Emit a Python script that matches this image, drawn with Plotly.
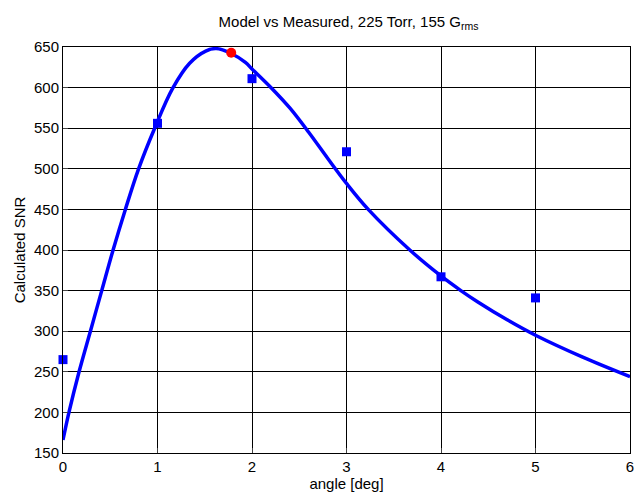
import plotly.graph_objects as go

# Model curve (angle in deg, SNR)
model_angle = [0, 0.063, 0.17, 0.29, 0.41, 0.53, 0.66, 0.80, 0.97, 1.16, 1.34, 1.51, 1.62,
               1.78, 1.93, 2.0, 2.21, 2.4, 2.6, 2.8, 3.0, 3.23, 3.67, 4.0, 4.21, 4.39,
               4.7, 5.0, 5.5, 6.0]
model_snr = [166, 200, 250, 300, 350, 400, 450, 500, 550, 599, 630, 645, 648,
             642, 631, 623, 599, 575, 545, 513, 482, 450, 400, 368, 350, 336,
             314, 295, 268, 244]

# Measured points
meas_angle = [0, 1, 2, 3, 4, 5]
meas_snr = [265, 556, 611, 521, 367, 341]

# Highlighted point
opt_angle = [1.78]
opt_snr = [643]

x_ticks = [0, 1, 2, 3, 4, 5, 6]
y_ticks = [150, 200, 250, 300, 350, 400, 450, 500, 550, 600, 650]

fig = go.Figure()
fig.add_trace(go.Scatter(x=model_angle, y=model_snr, mode="lines",
                         line=dict(color="#0000ff", width=3.5, shape="spline", smoothing=1.0),
                         showlegend=False))
fig.add_trace(go.Scatter(x=meas_angle, y=meas_snr, mode="markers",
                         marker=dict(symbol="square", size=9, color="#0000ff"),
                         showlegend=False, cliponaxis=False))
fig.add_trace(go.Scatter(x=opt_angle, y=opt_snr, mode="markers",
                         marker=dict(symbol="circle", size=10, color="#ff0000"),
                         showlegend=False, cliponaxis=False))

font = dict(family="Liberation Sans, Arial, sans-serif", size=15, color="black")

fig.update_layout(
    width=641, height=495,
    margin=dict(l=63, r=7, t=47, b=40),
    paper_bgcolor="white", plot_bgcolor="white",
    font=font,
    title=dict(text="Model vs Measured, 225 Torr, 155 G<sub>rms</sub>",
               x=(63 + 634) / 2 / 641, xanchor="center", y=1 - 22 / 495, yanchor="middle",
               font=dict(family="Liberation Sans, Arial, sans-serif", size=15, color="black")),
    xaxis=dict(range=[0, 6], tickvals=x_ticks, ticks="inside", ticklen=5,
               showgrid=True, gridcolor="black", gridwidth=1,
               showline=True, linecolor="black", linewidth=1, mirror=True,
               zeroline=False, tickfont=font,
               title=dict(text="angle [deg]", font=font, standoff=2)),
    yaxis=dict(range=[150, 650], tickvals=y_ticks, ticks="inside", ticklen=5,
               showgrid=True, gridcolor="black", gridwidth=1,
               showline=True, linecolor="black", linewidth=1, mirror=True,
               zeroline=False, tickfont=font,
               title=dict(text="Calculated SNR", font=font, standoff=4)),
)

fig.write_html("out.html")
